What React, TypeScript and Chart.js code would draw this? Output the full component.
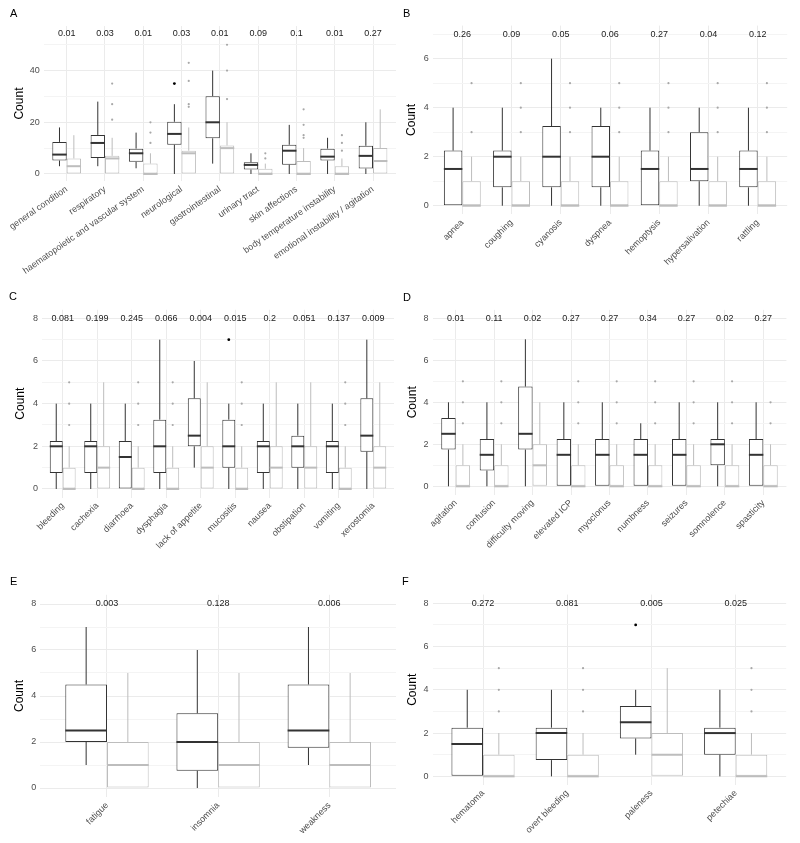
import React, { useEffect, useRef } from 'react';
import { Chart, registerables } from 'chart.js';
Chart.register(...registerables);

// ---------- DATA ----------
// stats per box: [min, q1, median, q3, max]
const A_CATEGORIES = ['general condition', 'respiratory', 'haematopoietic and vascular system', 'neurological', 'gastrointestinal', 'urinary tract', 'skin affections', 'body temperature instability', 'emotional instability / agitation'];
const A_PVALUES = ['0.01', '0.03', '0.01', '0.03', '0.01', '0.09', '0.1', '0.01', '0.27'];
const A_DARK = [[3, 5.2, 7.5, 12.4, 18], [3, 6.2, 12, 15.1, 28], [2.2, 4.7, 8, 9.8, 16], [0, 11.3, 15.5, 20.2, 27], [4, 13.8, 20, 30.1, 40], [0, 1.7, 3.5, 4.5, 8], [0, 3.6, 9, 11.3, 19], [0, 5.2, 6.7, 9.8, 14], [0, 2.1, 7, 10.9, 20]];
const A_DARK_OUT = [[], [], [], [35], [], [], [], [], []];
const A_GREY = [[0, 0, 3, 6, 15], [0, 0, 6, 7, 14], [0, 0, 0, 4, 8], [0, 0, 8, 9, 18], [0, 0, 10, 11, 20], [0, 0, 0, 2, 4], [0, 0, 0, 5, 10], [0, 0, 0, 3, 6], [0, 0, 5, 10, 25]];
const A_GREY_OUT = [[], [21, 27, 35], [12, 16, 20], [26, 27, 36, 43], [29, 40, 50], [6, 8], [14, 15, 19, 25], [9, 12, 15], []];
const A_Y_TICKS = [0, 10, 20, 30, 40, 50];
const A_Y_LABELS = [0, 20, 40];

const B_CATEGORIES = ['apnea', 'coughing', 'cyanosis', 'dyspnea', 'hemoptysis', 'hypersalivation', 'rattling'];
const B_PVALUES = ['0.26', '0.09', '0.05', '0.06', '0.27', '0.04', '0.12'];
const B_DARK = [[0, 0, 1.5, 2.25, 4], [0, 0.75, 2, 2.25, 4], [0, 0.75, 2, 3.25, 6], [0, 0.75, 2, 3.25, 4], [0, 0, 1.5, 2.25, 4], [0, 1, 1.5, 3, 4], [0, 0.75, 1.5, 2.25, 4]];
const B_DARK_OUT = [[], [], [], [], [], [], []];
const B_GREY = [[0, 0, 0, 1, 2], [0, 0, 0, 1, 2], [0, 0, 0, 1, 2], [0, 0, 0, 1, 2], [0, 0, 0, 1, 2], [0, 0, 0, 1, 2], [0, 0, 0, 1, 2]];
const B_GREY_OUT = [[3, 5], [3, 4, 5], [3, 4, 5], [3, 4, 5], [3, 4, 5], [3, 4, 5], [3, 4, 5]];
const B_Y_TICKS = [0, 1, 2, 3, 4, 5, 6, 7];
const B_Y_LABELS = [0, 2, 4, 6];

const C_CATEGORIES = ['bleeding', 'cachexia', 'diarrhoea', 'dysphagia', 'lack of appetite', 'mucositis', 'nausea', 'obstipation', 'vomiting', 'xerostomia'];
const C_PVALUES = ['0.081', '0.199', '0.245', '0.066', '0.004', '0.015', '0.2', '0.051', '0.137', '0.009'];
const C_DARK = [[0, 0.75, 2, 2.25, 4], [0, 0.75, 2, 2.25, 4], [0, 0, 1.5, 2.25, 4], [0, 0.75, 2, 3.25, 7], [1, 2, 2.5, 4.25, 6], [0, 1, 2, 3.25, 4], [0, 0.75, 2, 2.25, 4], [0, 1, 2, 2.5, 4], [0, 0.75, 2, 2.25, 4], [0, 1.75, 2.5, 4.25, 7]];
const C_DARK_OUT = [[], [], [], [], [], [7], [], [], [], []];
const C_GREY = [[0, 0, 0, 1, 2], [0, 0, 1, 2, 5], [0, 0, 0, 1, 2], [0, 0, 0, 1, 2], [0, 0, 1, 2, 5], [0, 0, 0, 1, 2], [0, 0, 1, 2, 5], [0, 0, 1, 2, 5], [0, 0, 0, 1, 2], [0, 0, 1, 2, 5]];
const C_GREY_OUT = [[3, 4, 5], [], [3, 4, 5], [3, 4, 5], [], [3, 4, 5], [], [], [3, 4, 5], []];
const COUNT_Y_TICKS = [0, 1, 2, 3, 4, 5, 6, 7, 8];
const COUNT_Y_LABELS = [0, 2, 4, 6, 8];

const D_CATEGORIES = ['agitation', 'confusion', 'difficulty moving', 'elevated ICP', 'myoclonus', 'numbness', 'seizures', 'somnolence', 'spasticity'];
const D_PVALUES = ['0.01', '0.11', '0.02', '0.27', '0.27', '0.34', '0.27', '0.02', '0.27'];
const D_DARK = [[0, 1.75, 2.5, 3.25, 4], [0, 0.75, 1.5, 2.25, 4], [0, 1.75, 2.5, 4.75, 7], [0, 0, 1.5, 2.25, 4], [0, 0, 1.5, 2.25, 4], [0, 0, 1.5, 2.25, 3], [0, 0, 1.5, 2.25, 4], [0, 1, 2, 2.25, 4], [0, 0, 1.5, 2.25, 4]];
const D_DARK_OUT = [[], [], [], [], [], [], [], [], []];
const D_GREY = [[0, 0, 0, 1, 2], [0, 0, 0, 1, 2], [0, 0, 1, 2, 4], [0, 0, 0, 1, 2], [0, 0, 0, 1, 2], [0, 0, 0, 1, 2], [0, 0, 0, 1, 2], [0, 0, 0, 1, 2], [0, 0, 0, 1, 2]];
const D_GREY_OUT = [[3, 4, 5], [3, 4, 5], [], [3, 4, 5], [3, 4, 5], [3, 4, 5], [3, 4, 5], [3, 4, 5], [3, 4]];

const E_CATEGORIES = ['fatigue', 'insomnia', 'weakness'];
const E_PVALUES = ['0.003', '0.128', '0.006'];
const E_DARK = [[1, 2, 2.5, 4.5, 7], [0, 0.75, 2, 3.25, 6], [1, 1.75, 2.5, 4.5, 7]];
const E_DARK_OUT = [[], [], []];
const E_GREY = [[0, 0, 1, 2, 5], [0, 0, 1, 2, 5], [0, 0, 1, 2, 5]];
const E_GREY_OUT = [[], [], []];

const F_CATEGORIES = ['hematoma', 'overt bleeding', 'paleness', 'petechiae'];
const F_PVALUES = ['0.272', '0.081', '0.005', '0.025'];
const F_DARK = [[0, 0, 1.5, 2.25, 4], [0, 0.75, 2, 2.25, 4], [1, 1.75, 2.5, 3.25, 4], [0, 1, 2, 2.25, 4]];
const F_DARK_OUT = [[], [], [7], []];
const F_GREY = [[0, 0, 0, 1, 2], [0, 0, 0, 1, 2], [0, 0, 1, 2, 5], [0, 0, 0, 1, 2]];
const F_GREY_OUT = [[3, 4, 5], [3, 4, 5], [], [3, 4, 5]];

// ---------- STYLE / LAYOUT ----------
const FONT = "'Liberation Sans', Arial, Helvetica, sans-serif";
const DARK = '#333333';
const GREY = '#BDBDBD';
const DARK_PT = '#000000';
const GREY_PT = '#A8A8A8';

type Panel = {
  letter: string; left: number; top: number; w: number; h: number;
  area: { l: number; r: number; t: number; b: number };
  rot: number; yMin: number; yMax: number; yTicks: number[]; yLabels: number[]; pY: number;
  titleCenter: number; letterX: number; letterY: number;
  categories: string[]; pvalues: string[]; dark: number[][]; darkOut: number[][]; grey: number[][]; greyOut: number[][];
};

const PANELS: Panel[] = [
  { letter: 'A', left: 0, top: 0, w: 400, h: 283, area: { l: 43.7, r: 396, t: 26.1, b: 181 }, rot: 35, yMin: -2.725, yMax: 57.225, yTicks: A_Y_TICKS, yLabels: A_Y_LABELS, pY: 54.5, titleCenter: 20, letterX: 10, letterY: 17, categories: A_CATEGORIES, pvalues: A_PVALUES, dark: A_DARK, darkOut: A_DARK_OUT, grey: A_GREY, greyOut: A_GREY_OUT },
  { letter: 'B', left: 400, top: 0, w: 400, h: 283, area: { l: 32.8, r: 387.2, t: 25.6, b: 214.3 }, rot: 45, yMin: -0.35, yMax: 7.35, yTicks: B_Y_TICKS, yLabels: B_Y_LABELS, pY: 7, titleCenter: 12, letterX: 3, letterY: 17, categories: B_CATEGORIES, pvalues: B_PVALUES, dark: B_DARK, darkOut: B_DARK_OUT, grey: B_GREY, greyOut: B_GREY_OUT },
  { letter: 'C', left: 0, top: 283, w: 400, h: 282, area: { l: 42, r: 394, t: 26.8, b: 214.5 }, rot: 45, yMin: -0.4, yMax: 8.4, yTicks: COUNT_Y_TICKS, yLabels: COUNT_Y_LABELS, pY: 8, titleCenter: 21, letterX: 9, letterY: 17, categories: C_CATEGORIES, pvalues: C_PVALUES, dark: C_DARK, darkOut: C_DARK_OUT, grey: C_GREY, greyOut: C_GREY_OUT },
  { letter: 'D', left: 400, top: 283, w: 400, h: 282, area: { l: 32.6, r: 386.4, t: 26.9, b: 211.7 }, rot: 45, yMin: -0.4, yMax: 8.4, yTicks: COUNT_Y_TICKS, yLabels: COUNT_Y_LABELS, pY: 8, titleCenter: 12.5, letterX: 3, letterY: 18, categories: D_CATEGORIES, pvalues: D_PVALUES, dark: D_DARK, darkOut: D_DARK_OUT, grey: D_GREY, greyOut: D_GREY_OUT },
  { letter: 'E', left: 0, top: 565, w: 400, h: 278, area: { l: 40.3, r: 396, t: 29.8, b: 232.2 }, rot: 45, yMin: -0.4, yMax: 8.4, yTicks: COUNT_Y_TICKS, yLabels: COUNT_Y_LABELS, pY: 8, titleCenter: 20, letterX: 10, letterY: 20, categories: E_CATEGORIES, pvalues: E_PVALUES, dark: E_DARK, darkOut: E_DARK_OUT, grey: E_GREY, greyOut: E_GREY_OUT },
  { letter: 'F', left: 400, top: 565, w: 400, h: 278, area: { l: 32.5, r: 386.2, t: 29.6, b: 220 }, rot: 45, yMin: -0.4, yMax: 8.4, yTicks: COUNT_Y_TICKS, yLabels: COUNT_Y_LABELS, pY: 8, titleCenter: 12.5, letterX: 2, letterY: 20, categories: F_CATEGORIES, pvalues: F_PVALUES, dark: F_DARK, darkOut: F_DARK_OUT, grey: F_GREY, greyOut: F_GREY_OUT },
];

function BoxPanel({ p }: { p: Panel }) {
  const ref = useRef<HTMLCanvasElement>(null);
  useEffect(() => {
    if (!ref.current) return;
    const n = p.categories.length;
    const makeBox = (stats: number[][], color: string) => ({
      type: 'bar' as const,
      data: stats.map((s, i) => ({ x: i, y: [s[1], s[3]] })),
      backgroundColor: '#FFFFFF',
      borderColor: color,
      borderWidth: 1,
      borderSkipped: false,
      categoryPercentage: 0.75,
      barPercentage: 1,
    });
    const extras = {
      id: 'boxExtras',
      afterDatasetsDraw(chart: any) {
        const c = chart.ctx as CanvasRenderingContext2D;
        const ys = chart.scales.y;
        const xs = chart.scales.x;
        const groups: [number[][], number[][], string, string, number][] = [
          [p.dark, p.darkOut, DARK, DARK_PT, 1.4],
          [p.grey, p.greyOut, GREY, GREY_PT, 1.1],
        ];
        groups.forEach(([stats, outs, col, ptCol, r], g) => {
          const meta = chart.getDatasetMeta(g);
          stats.forEach((s, i) => {
            const el: any = meta.data[i];
            const x = el.x;
            const w = el.width;
            c.save();
            c.strokeStyle = col;
            c.lineWidth = 1;
            c.beginPath();
            if (s[4] > s[3]) { c.moveTo(x, ys.getPixelForValue(s[3])); c.lineTo(x, ys.getPixelForValue(s[4])); }
            if (s[0] < s[1]) { c.moveTo(x, ys.getPixelForValue(s[1])); c.lineTo(x, ys.getPixelForValue(s[0])); }
            c.stroke();
            c.lineWidth = 2;
            c.beginPath();
            const my = ys.getPixelForValue(s[2]);
            c.moveTo(x - w / 2, my);
            c.lineTo(x + w / 2, my);
            c.stroke();
            c.fillStyle = ptCol;
            outs[i].forEach((v) => {
              c.beginPath();
              c.arc(x, ys.getPixelForValue(v), r, 0, Math.PI * 2);
              c.fill();
            });
            c.restore();
          });
        });
        c.save();
        c.font = `9px ${FONT}`;
        c.fillStyle = '#1A1A1A';
        c.textAlign = 'center';
        c.textBaseline = 'middle';
        p.pvalues.forEach((t, i) => c.fillText(t, xs.getPixelForValue(i), ys.getPixelForValue(p.pY)));
        c.font = `11px ${FONT}`;
        c.fillStyle = '#000000';
        c.textAlign = 'left';
        c.textBaseline = 'alphabetic';
        c.fillText(p.letter, p.letterX, p.letterY);
        c.restore();
      },
    };
    const chart = new Chart(ref.current, {
      type: 'bar',
      data: { datasets: [makeBox(p.dark, DARK), makeBox(p.grey, GREY)] as any },
      options: {
        animation: false,
        responsive: false,
        events: [],
        layout: { padding: { left: 0, right: p.w - p.area.r, top: p.area.t, bottom: 0 } },
        plugins: { legend: { display: false }, tooltip: { enabled: false } },
        scales: {
          x: {
            type: 'linear',
            offset: false,
            min: -0.6,
            max: n - 1 + 0.6,
            afterBuildTicks: (s: any) => { s.ticks = p.categories.map((_, i) => ({ value: i })); },
            afterFit: (s: any) => { s.height = p.h - p.area.b; s.paddingLeft = 0; s.paddingRight = 0; },
            grid: { color: '#EBEBEB', lineWidth: 1, drawTicks: false, offset: false },
            border: { display: false },
            ticks: {
              autoSkip: false, minRotation: p.rot, maxRotation: p.rot, padding: 3,
              color: '#4D4D4D', font: { family: FONT, size: 9 },
              callback: (v: any) => p.categories[v as number] ?? '',
            },
          },
          y: {
            type: 'linear',
            min: p.yMin,
            max: p.yMax,
            afterBuildTicks: (s: any) => { s.ticks = p.yTicks.map((v) => ({ value: v })); },
            afterFit: (s: any) => { s.width = p.area.l; s.paddingTop = 0; s.paddingBottom = 0; },
            grid: {
              drawTicks: false,
              color: (ctx: any) => (p.yLabels.includes(ctx.tick?.value) ? '#EBEBEB' : '#F4F4F4'),
              lineWidth: 1,
            },
            border: { display: false },
            ticks: {
              padding: 4, color: '#4D4D4D', font: { family: FONT, size: 9 },
              callback: (v: any) => (p.yLabels.includes(v as number) ? String(v) : ''),
            },
            title: {
              display: true, text: 'Count', color: '#000000', font: { family: FONT, size: 12 },
              padding: { top: p.titleCenter - 7.2, bottom: 0 },
            },
          },
        },
      } as any,
      plugins: [extras],
    });
    return () => chart.destroy();
  }, [p]);
  return (
    <canvas
      ref={ref}
      width={p.w}
      height={p.h}
      style={{ position: 'absolute', left: p.left, top: p.top, width: p.w, height: p.h }}
    />
  );
}

export default function App() {
  return (
    <div style={{ position: 'absolute', left: 0, top: 0, width: 800, height: 843, background: '#FFFFFF', overflow: 'hidden' }}>
      {PANELS.map((p) => (
        <BoxPanel key={p.letter} p={p} />
      ))}
    </div>
  );
}
